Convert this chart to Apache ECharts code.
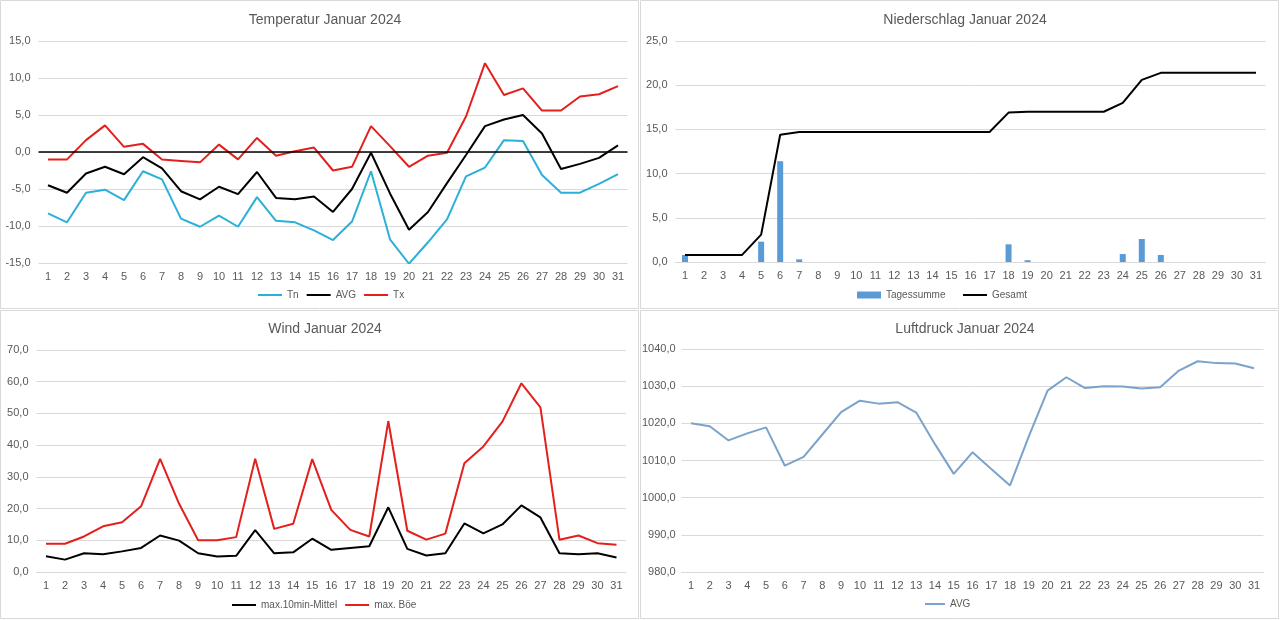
<!DOCTYPE html>
<html>
<head>
<meta charset="utf-8">
<script src="https://cdn.jsdelivr.net/npm/echarts@6/dist/echarts.min.js"></script>
<style>
html,body{margin:0;padding:0;background:#fff;}
#c{width:1280px;height:620px;}
</style>
</head>
<body>
<div id="c"></div>
<script>
const days = Array.from({length:31},(_,i)=>String(i+1));

const tempTn  = [-8.3,-9.5,-5.5,-5.1,-6.5,-2.6,-3.7,-9.0,-10.1,-8.6,-10.1,-6.1,-9.3,-9.5,-10.6,-11.9,-9.4,-2.6,-11.8,-15.1,-12.2,-9.1,-3.3,-2.1,1.6,1.5,-3.1,-5.5,-5.5,-4.3,-3.0];
const tempAvg = [-4.5,-5.5,-2.9,-2.0,-3.0,-0.7,-2.2,-5.3,-6.4,-4.7,-5.7,-2.7,-6.2,-6.4,-6.0,-8.1,-5.0,-0.1,-5.6,-10.5,-8.1,-4.2,-0.4,3.5,4.4,5.0,2.5,-2.3,-1.6,-0.8,0.9];
const tempTx  = [-1.0,-1.0,1.6,3.6,0.7,1.1,-1.0,-1.2,-1.4,1.0,-1.0,1.9,-0.5,0.1,0.6,-2.5,-2.0,3.5,0.8,-2.0,-0.5,-0.1,4.8,12.0,7.7,8.6,5.6,5.6,7.5,7.8,8.9];

const rainDay   = [0.8,0,0,0,2.3,11.4,0.3,0,0,0,0,0,0,0,0,0,0,2.0,0.2,0,0,0,0,0.9,2.6,0.8,0,0,0,0,0];
const rainTotal = [0.8,0.8,0.8,0.8,3.1,14.4,14.7,14.7,14.7,14.7,14.7,14.7,14.7,14.7,14.7,14.7,14.7,16.9,17.0,17.0,17.0,17.0,17.0,18.0,20.6,21.4,21.4,21.4,21.4,21.4,21.4];

const windMean = [5.0,3.9,5.9,5.6,6.5,7.6,11.5,9.9,5.9,4.9,5.1,13.2,5.9,6.2,10.5,7.0,7.6,8.1,20.4,7.3,5.2,5.9,15.3,12.2,15.0,21.0,17.2,5.9,5.6,5.9,4.6];
const windGust = [8.9,8.9,11.2,14.4,15.7,20.7,35.7,21.5,10.0,10.0,11.0,35.7,13.6,15.2,35.6,19.6,13.3,11.2,47.6,13.0,10.2,12.1,34.3,39.6,47.4,59.5,51.9,10.2,11.5,9.1,8.6];

const pressAvg = [1020.0,1019.2,1015.4,1017.3,1018.9,1008.6,1011.0,1017.0,1023.0,1026.1,1025.3,1025.7,1022.9,1014.4,1006.4,1012.2,1007.7,1003.3,1016.5,1028.8,1032.4,1029.5,1030.0,1029.9,1029.4,1029.7,1034.2,1036.7,1036.2,1036.1,1034.8];

const titles = ['Temperatur Januar 2024','Niederschlag Januar 2024','Wind Januar 2024','Luftdruck Januar 2024'];

const TXT = '#595959', GRID = '#d9d9d9', FONT = 'Liberation Sans';
const fmt = v => v.toFixed(1).replace('.', ',');

const grids = [
  {left:38.5, top:41, width:589, height:222},
  {left:675.5, top:41, width:590, height:221},
  {left:36.5, top:350, width:589.5, height:222},
  {left:681.6, top:349, width:581.8, height:223}
];
const yr = [[-15,15,5],[0,25,5],[0,70,10],[980,1040,10]];

const xAxes = grids.map((g,i)=>({
  type:'category', gridIndex:i, data:days,
  axisLine:{show:i!==0, lineStyle:{color:GRID}},
  axisTick:{show:false},
  axisLabel:{color:TXT, fontSize:11, fontFamily:FONT, margin:8, interval:0}
}));
const yAxes = grids.map((g,i)=>({
  type:'value', gridIndex:i, min:yr[i][0], max:yr[i][1], interval:yr[i][2],
  axisLine:{show:false}, axisTick:{show:false},
  splitLine:{lineStyle:{color:GRID, width:1}},
  axisLabel:{color:TXT, fontSize:11, fontFamily:FONT, margin:i===3?6:8, formatter:fmt}
}));

const line = (name, data, color, xi, extra) => Object.assign({
  name, type:'line', data, xAxisIndex:xi, yAxisIndex:xi,
  symbol:'none', lineStyle:{color, width:2}, itemStyle:{color}
}, extra||{});

const series = [
  line('Tn', tempTn, '#2bb0d9', 0),
  line('AVG', tempAvg, '#000000', 0, {
    markLine:{silent:true, symbol:'none', label:{show:false},
      lineStyle:{color:'#000', width:1.6, type:'solid'}, data:[{yAxis:0}]}
  }),
  line('Tx', tempTx, '#e3201c', 0),
  {name:'Tagessumme', type:'bar', data:rainDay, xAxisIndex:1, yAxisIndex:1,
   barWidth:6, itemStyle:{color:'#5b9bd5'}},
  line('Gesamt', rainTotal, '#000000', 1),
  line('max.10min-Mittel', windMean, '#000000', 2),
  line('max. Böe', windGust, '#e3201c', 2),
  {name:'AVG ', type:'line', data:pressAvg, xAxisIndex:3, yAxisIndex:3, symbol:'none',
   lineStyle:{color:'#7aa3cc', width:2}, itemStyle:{color:'#7aa3cc'}}
];

const legTxt = {color:TXT, fontSize:10, fontFamily:FONT};
const lineLeg = (names) => names.map(n=>({name:n, icon:'rect'}));
const legends = [
  {data:lineLeg(['Tn','AVG','Tx']), left:258, top:290, itemHeight:2},
  {data:[{name:'Tagessumme', icon:'rect'}], left:857, top:290, itemHeight:7},
  {data:lineLeg(['Gesamt']), left:963, top:290, itemHeight:2},
  {data:lineLeg(['max.10min-Mittel','max. Böe']), left:232, top:600, itemHeight:2},
  {data:lineLeg(['AVG ']), left:925, top:599, itemHeight:2, itemWidth:20}
].map(l=>Object.assign({itemWidth:24, itemGap:8, textStyle:legTxt, padding:0, selectedMode:false}, l));

const titleOpts = [[320,8],[960,8],[320,317],[960,317]].map((p,i)=>({
  text:titles[i], left:p[0], top:p[1], textAlign:'center',
  textStyle:{color:TXT, fontSize:14, fontWeight:'normal', fontFamily:FONT}
}));

const frames = [[0.5,0.5],[640.5,0.5],[0.5,310.5],[640.5,310.5]].map(p=>({
  type:'rect', shape:{x:p[0], y:p[1], width:638, height:308},
  style:{fill:'none', stroke:'#d9d9d9', lineWidth:1}, silent:true, z:-1
}));

const chart = echarts.init(document.getElementById('c'));
chart.setOption({
  animation:false,
  backgroundColor:'#fff',
  title:titleOpts,
  legend:legends,
  grid:grids,
  xAxis:xAxes,
  yAxis:yAxes,
  series,
  graphic:frames
});
</script>
</body>
</html>
